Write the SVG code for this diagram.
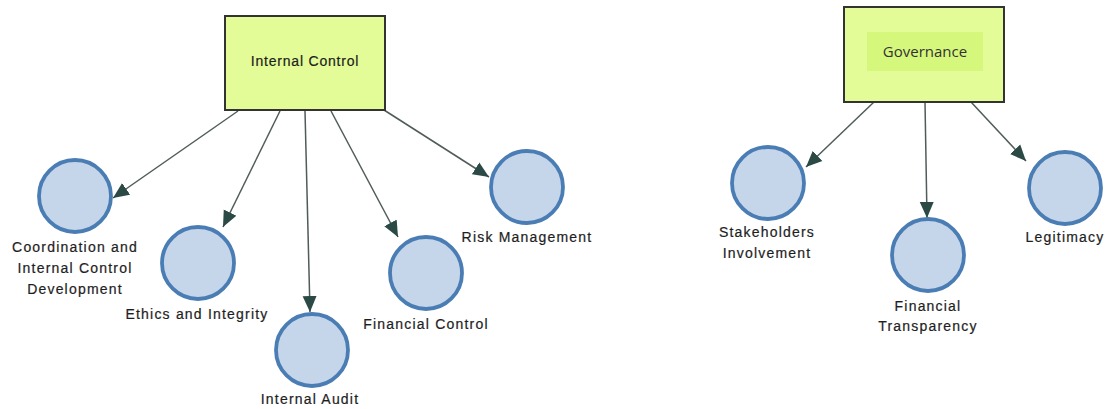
<svg xmlns="http://www.w3.org/2000/svg" width="1110" height="409" viewBox="0 0 1110 409">
<style>
.box{fill:#e4fc97;stroke:#333;stroke-width:2}
.inner{fill:#d5f87c}
.c{fill:#c6d6ea;stroke:#4b7db5;stroke-width:3.8}
.lbl{font-family:"Liberation Sans",Arial,sans-serif;font-size:14px;letter-spacing:1.2px;fill:#1e1e1e;text-anchor:middle;stroke:#1e1e1e;stroke-width:0.2}
.gov{font-family:"Open Sans","Liberation Sans",sans-serif;font-size:15px;fill:#333;text-anchor:middle}
.con line{stroke:#505c5a;stroke-width:1.5;marker-end:url(#ah)}
</style>
<defs>
<marker id="ah" markerUnits="userSpaceOnUse" markerWidth="17" markerHeight="15" refX="16" refY="7" orient="auto" viewBox="0 0 17 14">
<path d="M0,0 L16,7 L0,14 z" fill="#2c4a45"/>
</marker>
</defs>
<rect width="1110" height="409" fill="#fff"/>
<g id="connectors" class="con">
<line x1="238" y1="111" x2="113" y2="198"/>
<line x1="280" y1="111" x2="223" y2="227"/>
<line x1="305" y1="111" x2="310" y2="312"/>
<line x1="331" y1="111" x2="398" y2="237"/>
<line x1="384" y1="110" x2="489" y2="177"/>
<line x1="874" y1="102" x2="806" y2="167"/>
<line x1="925" y1="102" x2="927" y2="218"/>
<line x1="971" y1="102" x2="1026" y2="161"/>
</g>
<g id="internal-control">
<rect class="box" x="225" y="16" width="160" height="94"/>
<text class="lbl" x="305" y="66" style="letter-spacing:0.8px">Internal Control</text>
</g>
<g id="coordination">
<circle class="c" cx="75" cy="196" r="36"/>
<text class="lbl" x="75" y="252">Coordination and</text>
<text class="lbl" x="75" y="273">Internal Control</text>
<text class="lbl" x="75" y="294">Development</text>
</g>
<g id="ethics">
<circle class="c" cx="198" cy="263" r="36"/>
<text class="lbl" x="197" y="319">Ethics and Integrity</text>
</g>
<g id="internal-audit">
<circle class="c" cx="312" cy="350" r="36"/>
<text class="lbl" x="310" y="404">Internal Audit</text>
</g>
<g id="financial-control">
<circle class="c" cx="426" cy="273" r="36"/>
<text class="lbl" x="426" y="329">Financial Control</text>
</g>
<g id="risk-management">
<circle class="c" cx="527" cy="187" r="36"/>
<text class="lbl" x="527" y="242">Risk Management</text>
</g>
<g id="governance">
<rect class="box" x="844" y="7" width="160" height="95"/>
<rect class="inner" x="867" y="32" width="116" height="39"/>
<text class="gov" x="925" y="57">Governance</text>
</g>
<g id="stakeholders">
<circle class="c" cx="768" cy="183" r="36"/>
<text class="lbl" x="767" y="237">Stakeholders</text>
<text class="lbl" x="767" y="258">Involvement</text>
</g>
<g id="financial-transparency">
<circle class="c" cx="928" cy="255" r="36"/>
<text class="lbl" x="928" y="311">Financial</text>
<text class="lbl" x="928" y="331">Transparency</text>
</g>
<g id="legitimacy">
<circle class="c" cx="1065" cy="188" r="36"/>
<text class="lbl" x="1065" y="242">Legitimacy</text>
</g>
</svg>
